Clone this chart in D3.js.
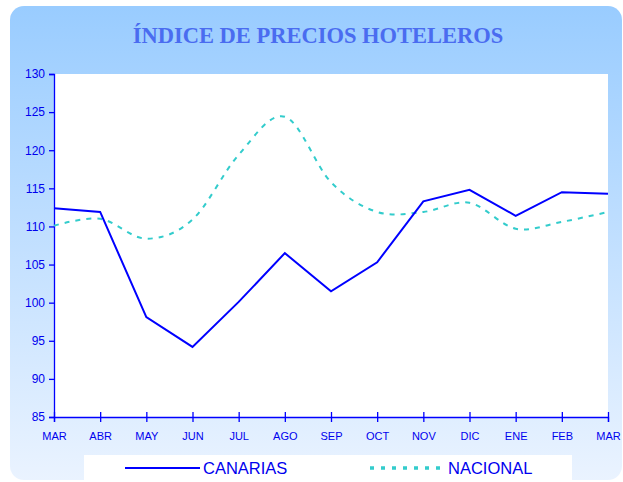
<!DOCTYPE html>
<html>
<head>
<meta charset="utf-8">
<script src="https://cdn.jsdelivr.net/npm/d3@7"></script>
<style>
  body { margin: 0; background: #fff; }
  text { font-family: "Liberation Sans", Arial, sans-serif; }
</style>
</head>
<body>
<div id="vizcont"></div>
<script>
// months on the x axis
var months = ["MAR", "ABR", "MAY", "JUN", "JUL", "AGO", "SEP", "OCT", "NOV", "DIC", "ENE", "FEB", "MAR"];
// index values
var canarias = [112.4, 111.9, 98.1, 94.2, 100.1, 106.5, 101.5, 105.3, 113.3, 114.8, 111.4, 114.5, 114.3];
var nacional = [110.1, 111.0, 108.4, 110.9, 119.4, 124.4, 115.8, 111.9, 111.9, 113.1, 109.7, 110.6, 111.9];
var yTicks = [85, 90, 95, 100, 105, 110, 115, 120, 125, 130];

var W = 623, H = 482;
var margin = {top: 74, right: 15, bottom: 65, left: 54};
var width = W - margin.left - margin.right;
var height = H - margin.top - margin.bottom;

var svg = d3.select("#vizcont")
    .append("svg")
    .attr("width", W)
    .attr("height", H);

// background panel with gradient
var defs = svg.append("defs");
var grad = defs.append("linearGradient")
    .attr("id", "bg")
    .attr("x1", 0).attr("y1", 0).attr("x2", 0).attr("y2", 1);
grad.append("stop").attr("offset", "0%").attr("stop-color", "#99ccff");
grad.append("stop").attr("offset", "100%").attr("stop-color", "#eaf3ff");

svg.append("rect")
    .attr("x", 10).attr("y", 6)
    .attr("width", 612).attr("height", 474)
    .attr("rx", 14).attr("ry", 14)
    .style("fill", "url(#bg)");

// title
svg.append("text")
    .attr("x", 318).attr("y", 43)
    .attr("text-anchor", "middle")
    .style("font-family", "'Liberation Serif', 'DejaVu Serif', serif")
    .style("font-weight", "bold")
    .style("font-size", "22.5px")
    .style("fill", "#4a6cf0")
    .text("ÍNDICE DE PRECIOS HOTELEROS");

var g = svg.append("g")
    .attr("transform", "translate(" + margin.left + "," + margin.top + ")");

// plot area
g.append("rect")
    .attr("width", width)
    .attr("height", height)
    .style("fill", "#fff");

var x = d3.scalePoint()
    .domain(d3.range(months.length))
    .range([0, width]);

var y = d3.scaleLinear()
    .domain([85, 130])
    .range([height, 0]);

// y axis
var yAxis = g.append("g")
    .call(d3.axisLeft(y).tickValues(yTicks).tickSize(5).tickPadding(4));
yAxis.select(".domain").attr("stroke", "#0000ff").attr("stroke-width", 1.3);
yAxis.selectAll("line").attr("stroke", "#0000ff").attr("stroke-width", 1.3);
yAxis.selectAll("text")
    .style("font-size", "12px")
    .style("fill", "#0000ee");

// x axis (ticks cross the axis line)
var xAxis = g.append("g")
    .attr("transform", "translate(0," + height + ")")
    .call(d3.axisBottom(x).tickSize(5).tickPadding(10).tickFormat(function(i) { return months[i]; }));
xAxis.select(".domain").attr("stroke", "#0000ff").attr("stroke-width", 1.3);
xAxis.selectAll(".tick line")
    .attr("y1", -5).attr("y2", 5)
    .attr("stroke", "#0000ff").attr("stroke-width", 1.3);
xAxis.selectAll("text")
    .style("font-size", "11px")
    .style("fill", "#0000ee");

// lines
var lineC = d3.line()
    .x(function(d, i) { return x(i); })
    .y(function(d) { return y(d); });

var lineN = d3.line()
    .x(function(d, i) { return x(i); })
    .y(function(d) { return y(d); })
    .curve(d3.curveCardinal.tension(0));

g.append("path")
    .datum(nacional)
    .attr("d", lineN)
    .style("fill", "none")
    .style("stroke", "#33cccc")
    .style("stroke-width", 2)
    .style("stroke-dasharray", "5,6");

g.append("path")
    .datum(canarias)
    .attr("d", lineC)
    .style("fill", "none")
    .style("stroke", "#0000ff")
    .style("stroke-width", 2);

// legend
var leg = svg.append("g");
leg.append("rect")
    .attr("x", 84).attr("y", 455)
    .attr("width", 488).attr("height", 27)
    .style("fill", "#fff");

leg.append("line")
    .attr("x1", 125).attr("x2", 200)
    .attr("y1", 468).attr("y2", 468)
    .style("stroke", "#0000ff").style("stroke-width", 2);
leg.append("text")
    .attr("x", 203).attr("y", 474)
    .style("font-size", "16.5px")
    .style("fill", "#0000ee")
    .text("CANARIAS");

leg.append("line")
    .attr("x1", 370).attr("x2", 446)
    .attr("y1", 468).attr("y2", 468)
    .style("stroke", "#33cccc").style("stroke-width", 3.5)
    .style("stroke-dasharray", "4,7");
leg.append("text")
    .attr("x", 448).attr("y", 474)
    .style("font-size", "16.5px")
    .style("fill", "#0000ee")
    .text("NACIONAL");
</script>
</body>
</html>
